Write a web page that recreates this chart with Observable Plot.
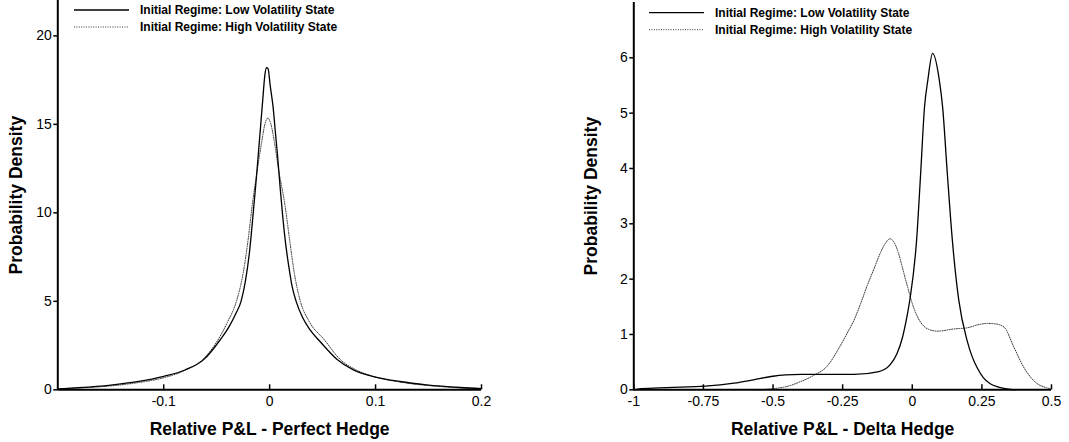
<!DOCTYPE html>
<html><head><meta charset="utf-8">
<script src="https://cdn.jsdelivr.net/npm/d3@7"></script>
<script src="https://cdn.jsdelivr.net/npm/@observablehq/plot@0.6"></script>
<style>
body{margin:0;background:#fff;}
#wrap{position:relative;width:1069px;height:442px;display:flex;font-family:"Liberation Sans",Arial,sans-serif;}
#wrap svg{display:block;}
g[aria-label="x-axis label"] text, g[aria-label="y-axis label"] text{font-weight:bold;font-size:17.5px;}
#legend{position:absolute;left:0;top:0;pointer-events:none;}
</style>
</head><body>
<div id="wrap"></div>
<script>
// ---------- data ----------
const legendLabels = ["Initial Regime: Low Volatility State", "Initial Regime: High Volatility State"];
const yLabel = "Probability Density";
const leftXLabel = "Relative P&L - Perfect Hedge";
const rightXLabel = "Relative P&L - Delta Hedge";

const leftXTicks = [-0.1, 0, 0.1, 0.2];
const leftYTicks = [0, 5, 10, 15, 20];
const rightXTicks = [-1, -0.75, -0.5, -0.25, 0, 0.25, 0.5];
const rightYTicks = [0, 1, 2, 3, 4, 5, 6];

// Perfect hedge – low volatility initial regime
const perfLowX = [-0.2, -0.18, -0.15, -0.125, -0.1, -0.08, -0.062, -0.047, -0.038, -0.032, -0.027, -0.023, -0.019, -0.0155, -0.0125, -0.0095, -0.0065, -0.0045, -0.003, -0.0015, 0.0005, 0.0032, 0.0055, 0.0075, 0.0101, 0.0125, 0.015, 0.018, 0.021, 0.025, 0.031, 0.038, 0.048, 0.064, 0.079, 0.098, 0.123, 0.148, 0.18, 0.2];
const perfLowY = [0.05, 0.12, 0.27, 0.46, 0.76, 1.12, 1.72, 2.8, 3.6, 4.3, 5.0, 6.1, 7.8, 10.0, 12.0, 14.2, 16.4, 17.8, 18.2, 18.15, 17.2, 16.0, 14.5, 13.2, 11.3, 9.7, 8.3, 7.0, 5.9, 5.0, 4.1, 3.4, 2.7, 1.7, 1.13, 0.75, 0.47, 0.28, 0.13, 0.07];
// Perfect hedge – high volatility initial regime
const perfHighX = [-0.2, -0.18, -0.15, -0.125, -0.1, -0.08, -0.063, -0.049, -0.04, -0.0314, -0.025, -0.0204, -0.0163, -0.012, -0.0078, -0.0045, -0.0019, 0.001, 0.0045, 0.008, 0.0148, 0.0189, 0.023, 0.029, 0.037, 0.052, 0.066, 0.0824, 0.1, 0.125, 0.15, 0.18, 0.2];
const perfHighY = [0.04, 0.1, 0.22, 0.4, 0.68, 1.1, 1.72, 2.8, 3.8, 5.0, 6.6, 8.45, 10.5, 12.3, 13.9, 15.0, 15.35, 15.05, 14.0, 12.6, 10.3, 8.45, 6.7, 5.0, 3.9, 2.8, 1.75, 1.1, 0.72, 0.42, 0.24, 0.11, 0.05];

// Delta hedge – low volatility initial regime
const deltaLowX = [-1, -0.975, -0.88, -0.743, -0.64, -0.57, -0.5, -0.4, -0.33, -0.258, -0.21, -0.12, -0.08, -0.055, -0.035, -0.02, -0.008, 0.0155, 0.03, 0.044, 0.056, 0.073, 0.097, 0.109, 0.126, 0.144, 0.167, 0.197, 0.215, 0.235, 0.255, 0.28, 0.31, 0.34, 0.37];
const deltaLowY = [0.0, 0.02, 0.04, 0.065, 0.12, 0.18, 0.245, 0.277, 0.28, 0.28, 0.277, 0.33, 0.45, 0.65, 0.95, 1.3, 1.65, 2.7, 3.9, 5.11, 5.6, 6.08, 5.6, 5.11, 3.9, 2.7, 1.62, 0.89, 0.6, 0.38, 0.22, 0.11, 0.05, 0.015, 0.0];
// Delta hedge – high volatility initial regime
const deltaHighX = [-0.55, -0.5, -0.45, -0.4, -0.354, -0.307, -0.258, -0.233, -0.21, -0.186, -0.162, -0.138, -0.114, -0.095, -0.08, -0.065, -0.05, -0.035, -0.018, 0.0, 0.015, 0.03, 0.06, 0.09, 0.15, 0.197, 0.24, 0.27, 0.3, 0.33, 0.365, 0.4, 0.449, 0.48, 0.5];
const deltaHighY = [0.0, 0.02, 0.06, 0.15, 0.26, 0.42, 0.8, 1.03, 1.25, 1.55, 1.88, 2.18, 2.48, 2.66, 2.73, 2.66, 2.48, 2.2, 1.88, 1.56, 1.36, 1.22, 1.09, 1.06, 1.1, 1.12, 1.18, 1.2, 1.19, 1.13, 0.77, 0.41, 0.11, 0.04, 0.01];

// ---------- build ----------
const zip = (xs, ys) => xs.map((x, i) => ({x, y: ys[i]}));
const fmt = d => String(d);
const FONT = '"Liberation Sans", Arial, sans-serif';
const solidStyle = {stroke: "#000", strokeWidth: 1.3};
const dotStyle = {stroke: "#333", strokeWidth: 1, strokeDasharray: "1 1.4"};

function panel(o) {
  return Plot.plot({
    width: o.width, height: 442,
    marginLeft: o.marginLeft, marginRight: o.marginRight, marginTop: o.marginTop, marginBottom: 52.7,
    style: {fontFamily: FONT, fontSize: "14px", color: "#000", background: "#fff"},
    x: {domain: o.xDomain},
    y: {domain: o.yDomain},
    marks: [
      Plot.axisY({ticks: o.yTicks, tickFormat: fmt, tickSize: 4, tickPadding: 2, strokeWidth: 1.5,
        label: yLabel, labelAnchor: "center", labelArrow: "none", labelOffset: o.yLabelOffset}),
      Plot.axisX({ticks: o.xTicks, tickFormat: fmt, tickSize: 0, tickPadding: 6,
        label: o.xLabel, labelAnchor: "center", labelArrow: "none", labelOffset: 44.7}),
      Plot.ruleX(o.xTicks, {x: d => d, y1: 0, y2: 0, insetTop: -5, strokeWidth: 1.5}),
      Plot.line(o.high, {x: "x", y: "y", curve: "monotone-x", ...dotStyle}),
      Plot.line(o.low, {x: "x", y: "y", curve: "monotone-x", ...solidStyle}),
      Plot.ruleY([o.yDomain[0]], {strokeWidth: 2}),
      Plot.ruleX([o.xDomain[0]], {strokeWidth: 2})
    ]
  });
}

const wrap = document.getElementById("wrap");
wrap.append(panel({
  width: 535, marginLeft: 57.3, marginRight: 54, marginTop: 0,
  xDomain: [-0.2, 0.2], yDomain: [0, 22], xTicks: leftXTicks, yTicks: leftYTicks,
  xLabel: leftXLabel, yLabelOffset: 48.6,
  low: zip(perfLowX, perfLowY), high: zip(perfHighX, perfHighY)
}));
wrap.append(panel({
  width: 534, marginLeft: 98.3, marginRight: 18, marginTop: 2,
  xDomain: [-1, 0.5], yDomain: [0, 7], xTicks: rightXTicks, yTicks: rightYTicks,
  xLabel: rightXLabel, yLabelOffset: 49.3,
  low: zip(deltaLowX, deltaLowY), high: zip(deltaHighX, deltaHighY)
}));

// legends (one per panel)
const leg = d3.select(wrap).append("svg").attr("id", "legend").attr("width", 1069).attr("height", 442)
  .attr("font-family", FONT).attr("font-size", 12).attr("font-weight", "bold");
const legendPos = [{x: 74, y: 10}, {x: 649, y: 12.7}];
const legendStyles = [solidStyle, dotStyle];
legendPos.forEach(p => {
  legendLabels.forEach((lab, i) => {
    const y = p.y + i * 17;
    const s = legendStyles[i];
    leg.append("line").attr("x1", p.x).attr("x2", p.x + 55).attr("y1", y).attr("y2", y)
      .attr("stroke", s.stroke).attr("stroke-width", s.strokeWidth).attr("stroke-dasharray", s.strokeDasharray || null);
    leg.append("text").attr("x", p.x + 66).attr("y", y).attr("dy", "0.35em").text(lab);
  });
});
</script>
</body></html>
